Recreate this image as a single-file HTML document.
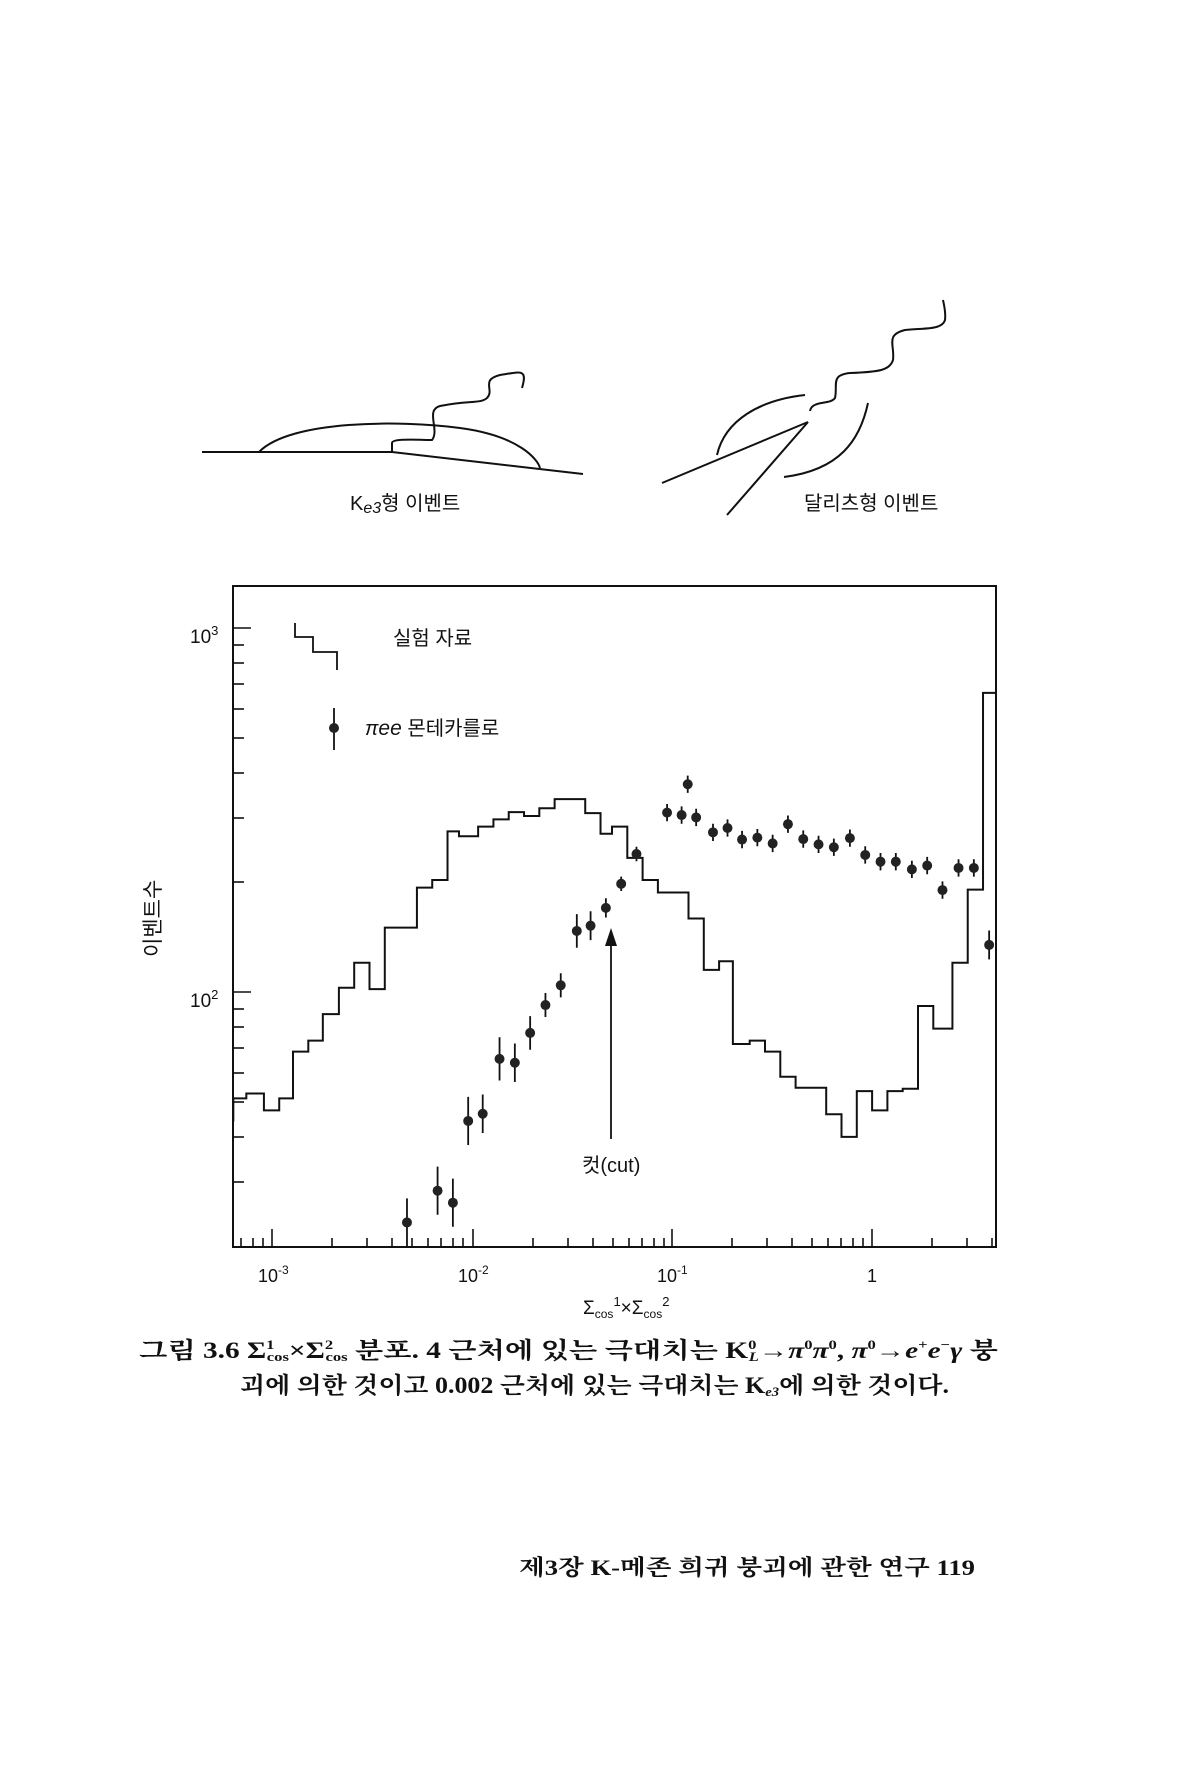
<!DOCTYPE html>
<html><head><meta charset="utf-8"><style>
html,body{margin:0;padding:0;background:#fff}
svg{display:block}
text{font-family:"Liberation Sans","Noto Sans CJK KR",sans-serif;fill:#111}
.s{font-family:"Liberation Serif","Noto Serif CJK SC","Noto Sans CJK KR",serif}
</style></head><body>
<svg width="1193" height="1767" viewBox="0 0 1193 1767" xmlns="http://www.w3.org/2000/svg">
<g fill="none" stroke="#111" stroke-width="2">
<path d="M202,452 H392 L583,474"/>
<path d="M259,452 C290,420 400,420 460,428 C520,436 538,460 540,468"/>
<path d="M392,452 V443 C392,438 420,440 432,440 C440,430 425,410 440,406 C470,400 480,404 487,398 C495,390 480,380 500,375 C520,372 528,368 522,388" />
<path d="M662,483 L808,422"/>
<path d="M727,515 L808,422"/>
<path d="M717,455 C725,420 760,400 805,395"/>
<path d="M868,403 C860,440 840,470 784,477"/>
<path d="M810,411 C812,400 830,405 835,398 C838,385 830,375 850,373 C880,372 890,370 893,360 C895,345 885,335 905,330 C925,328 942,330 945,320 C946,312 944,305 943,300"/>
</g>
<text x="350" y="510" font-size="20">K<tspan font-style="italic" font-size="16" dy="3">e3</tspan><tspan dy="-3">형 이벤트</tspan></text>
<text x="804" y="510" font-size="20">달리츠형 이벤트</text>

<rect x="233" y="586" width="763" height="661" fill="none" stroke="#111" stroke-width="2"/>
<g stroke="#111" stroke-width="1.6">
<line x1="233" y1="628" x2="251" y2="628"/>
<line x1="233" y1="645" x2="244" y2="645"/><line x1="233" y1="663" x2="244" y2="663"/><line x1="233" y1="684" x2="244" y2="684"/><line x1="233" y1="709" x2="244" y2="709"/><line x1="233" y1="738" x2="244" y2="738"/><line x1="233" y1="773" x2="244" y2="773"/><line x1="233" y1="818" x2="244" y2="818"/><line x1="233" y1="882" x2="244" y2="882"/>
<line x1="233" y1="992" x2="251" y2="992"/>
<line x1="233" y1="1009" x2="244" y2="1009"/><line x1="233" y1="1027" x2="244" y2="1027"/><line x1="233" y1="1048" x2="244" y2="1048"/><line x1="233" y1="1073" x2="244" y2="1073"/><line x1="233" y1="1102" x2="244" y2="1102"/><line x1="233" y1="1137" x2="244" y2="1137"/><line x1="233" y1="1182" x2="244" y2="1182"/>
<g>
<line x1="241" y1="1247" x2="241" y2="1238"/><line x1="253" y1="1247" x2="253" y2="1238"/><line x1="263" y1="1247" x2="263" y2="1238"/>
<line x1="272" y1="1247" x2="272" y2="1229"/>
<line x1="332" y1="1247" x2="332" y2="1238"/><line x1="367" y1="1247" x2="367" y2="1238"/><line x1="392" y1="1247" x2="392" y2="1238"/><line x1="412" y1="1247" x2="412" y2="1238"/><line x1="428" y1="1247" x2="428" y2="1238"/><line x1="441" y1="1247" x2="441" y2="1238"/><line x1="453" y1="1247" x2="453" y2="1238"/><line x1="463" y1="1247" x2="463" y2="1238"/>
<line x1="473" y1="1247" x2="473" y2="1229"/>
<line x1="533" y1="1247" x2="533" y2="1238"/><line x1="568" y1="1247" x2="568" y2="1238"/><line x1="593" y1="1247" x2="593" y2="1238"/><line x1="613" y1="1247" x2="613" y2="1238"/><line x1="629" y1="1247" x2="629" y2="1238"/><line x1="642" y1="1247" x2="642" y2="1238"/><line x1="654" y1="1247" x2="654" y2="1238"/><line x1="664" y1="1247" x2="664" y2="1238"/>
<line x1="672" y1="1247" x2="672" y2="1229"/>
<line x1="732" y1="1247" x2="732" y2="1238"/><line x1="767" y1="1247" x2="767" y2="1238"/><line x1="792" y1="1247" x2="792" y2="1238"/><line x1="812" y1="1247" x2="812" y2="1238"/><line x1="828" y1="1247" x2="828" y2="1238"/><line x1="841" y1="1247" x2="841" y2="1238"/><line x1="853" y1="1247" x2="853" y2="1238"/><line x1="863" y1="1247" x2="863" y2="1238"/>
<line x1="872" y1="1247" x2="872" y2="1229"/>
<line x1="932" y1="1247" x2="932" y2="1238"/><line x1="967" y1="1247" x2="967" y2="1238"/><line x1="992" y1="1247" x2="992" y2="1238"/>
</g>
</g>
<text x="190" y="643" font-size="19">10<tspan font-size="13" dy="-8">3</tspan></text>
<text x="190" y="1007" font-size="19">10<tspan font-size="13" dy="-8">2</tspan></text>
<text x="258" y="1282" font-size="18">10<tspan font-size="12" dy="-8">-3</tspan></text>
<text x="458" y="1282" font-size="18">10<tspan font-size="12" dy="-8">-2</tspan></text>
<text x="657" y="1282" font-size="18">10<tspan font-size="12" dy="-8">-1</tspan></text>
<text x="867" y="1282" font-size="18">1</text>
<text x="583" y="1314" font-size="19">Σ<tspan font-size="12" dy="4">cos</tspan><tspan font-size="13" dy="-12">1</tspan><tspan dy="8">×Σ</tspan><tspan font-size="12" dy="4">cos</tspan><tspan font-size="13" dy="-12">2</tspan></text>
<text transform="translate(160,957) rotate(-90)" font-size="21">이벤트수</text>

<path d="M295,623 V637 H313 V652 H337 V670" fill="none" stroke="#111" stroke-width="1.8"/>
<text x="393" y="645" font-size="20">실험 자료</text>
<line x1="334" y1="708" x2="334" y2="750" stroke="#111" stroke-width="1.8"/>
<circle cx="334" cy="728" r="5" fill="#222"/>
<text x="365" y="735" font-size="20"><tspan font-style="italic">π</tspan><tspan font-style="italic" font-size="21">ee</tspan> 몬테카를로</text>

<g transform="translate(0,550) scale(0.765,0.481)" fill="none" stroke="#111">
<path vector-effect="non-scaling-stroke" stroke-width="2" d="M305,1188 V1140 H322 V1130 H345 V1165 H365 V1140 H383 V1043 H403 V1020 H422 V965 H443 V910 H463 V858 H483 V913 H503 V785 H545 V702 H565 V686 H585 V585 H600 V595 H625 V575 H645 V560 H665 V545 H685 V553 H705 V537 H725 V518 H765 V547 H785 V590 H800 V575 H820 V640 H840 V686 H860 V712 H900 V766 H920 V873 H940 V855 H958 V1027 H980 V1020 H1000 V1043 H1020 V1095 H1040 V1118 H1080 V1173 H1100 V1220 H1120 V1125 H1140 V1165 H1160 V1125 H1180 V1120 H1200 V948 H1220 V995 H1245 V858 H1265 V706 H1285 V297 H1302"/>
<g stroke-width="1.8">
<path vector-effect="non-scaling-stroke" d="M532,1348V1448 M572,1282V1382 M592,1307V1407 M612,1137V1237 M631,1132V1212 M653,1013V1103 M673,1026V1106 M693,969V1039 M713,921V971 M733,880V930 M754,757V827 M772,751V811 M792,724V764 M812,679V709 M832,617V647 M872,528V564 M891,533V569 M899,469V505 M910,538V574 M932,569V605 M951,560V596 M970,584V620 M990,580V616 M1010,592V628 M1030,552V588 M1050,583V619 M1070,594V630 M1090,600V636 M1111,581V617 M1131,616V652 M1151,630V666 M1171,630V666 M1192,646V682 M1212,638V674 M1232,689V725 M1253,643V679 M1273,643V679 M1293,791V851"/>
</g>
<g fill="#222" stroke="none">
<ellipse cx="532" cy="1398" rx="6.5" ry="10.4"/><ellipse cx="572" cy="1332" rx="6.5" ry="10.4"/><ellipse cx="592" cy="1357" rx="6.5" ry="10.4"/><ellipse cx="612" cy="1187" rx="6.5" ry="10.4"/><ellipse cx="631" cy="1172" rx="6.5" ry="10.4"/><ellipse cx="653" cy="1058" rx="6.5" ry="10.4"/><ellipse cx="673" cy="1066" rx="6.5" ry="10.4"/><ellipse cx="693" cy="1004" rx="6.5" ry="10.4"/><ellipse cx="713" cy="946" rx="6.5" ry="10.4"/><ellipse cx="733" cy="905" rx="6.5" ry="10.4"/><ellipse cx="754" cy="792" rx="6.5" ry="10.4"/><ellipse cx="772" cy="781" rx="6.5" ry="10.4"/><ellipse cx="792" cy="744" rx="6.5" ry="10.4"/><ellipse cx="812" cy="694" rx="6.5" ry="10.4"/><ellipse cx="832" cy="632" rx="6.5" ry="10.4"/>
<ellipse cx="872" cy="546" rx="6.5" ry="10.4"/><ellipse cx="891" cy="551" rx="6.5" ry="10.4"/><ellipse cx="899" cy="487" rx="6.5" ry="10.4"/><ellipse cx="910" cy="556" rx="6.5" ry="10.4"/><ellipse cx="932" cy="587" rx="6.5" ry="10.4"/><ellipse cx="951" cy="578" rx="6.5" ry="10.4"/><ellipse cx="970" cy="602" rx="6.5" ry="10.4"/><ellipse cx="990" cy="598" rx="6.5" ry="10.4"/><ellipse cx="1010" cy="610" rx="6.5" ry="10.4"/><ellipse cx="1030" cy="570" rx="6.5" ry="10.4"/><ellipse cx="1050" cy="601" rx="6.5" ry="10.4"/><ellipse cx="1070" cy="612" rx="6.5" ry="10.4"/><ellipse cx="1090" cy="618" rx="6.5" ry="10.4"/><ellipse cx="1111" cy="599" rx="6.5" ry="10.4"/><ellipse cx="1131" cy="634" rx="6.5" ry="10.4"/><ellipse cx="1151" cy="648" rx="6.5" ry="10.4"/><ellipse cx="1171" cy="648" rx="6.5" ry="10.4"/><ellipse cx="1192" cy="664" rx="6.5" ry="10.4"/><ellipse cx="1212" cy="656" rx="6.5" ry="10.4"/><ellipse cx="1232" cy="707" rx="6.5" ry="10.4"/><ellipse cx="1253" cy="661" rx="6.5" ry="10.4"/><ellipse cx="1273" cy="661" rx="6.5" ry="10.4"/><ellipse cx="1293" cy="821" rx="6.5" ry="10.4"/>
</g>
</g>

<line x1="611" y1="1139" x2="611" y2="940" stroke="#111" stroke-width="1.8"/>
<path d="M605,946 L611,928 L617,946 Z" fill="#111"/>
<text x="582" y="1172" font-size="20">컷(cut)</text>

<text class="s" x="139" y="1358" font-size="23" font-weight="bold" textLength="859" lengthAdjust="spacingAndGlyphs">그림 3.6  Σ<tspan font-size="13" dy="-9">1</tspan><tspan font-size="13" dx="-6" dy="12">cos</tspan><tspan dy="-3">×Σ</tspan><tspan font-size="13" dy="-9">2</tspan><tspan font-size="13" dx="-6" dy="12">cos</tspan><tspan dy="-3"> 분포. 4 근처에 있는 극대치는 K</tspan><tspan font-size="13" dy="-9">0</tspan><tspan font-size="13" font-style="italic" dx="-6" dy="12">L</tspan><tspan dy="-3">→</tspan><tspan font-style="italic">π</tspan><tspan font-size="13" dy="-9">0</tspan><tspan font-style="italic" dy="9">π</tspan><tspan font-size="13" dy="-9">0</tspan><tspan dy="9">, </tspan><tspan font-style="italic">π</tspan><tspan font-size="13" dy="-9">0</tspan><tspan dy="9">→</tspan><tspan font-style="italic">e</tspan><tspan font-size="13" dy="-9">+</tspan><tspan font-style="italic" dy="9">e</tspan><tspan font-size="13" dy="-9">−</tspan><tspan font-style="italic" dy="9">γ</tspan> 붕</text>
<text class="s" x="240" y="1393" font-size="23" font-weight="bold" textLength="709" lengthAdjust="spacingAndGlyphs">괴에 의한 것이고 0.002 근처에 있는 극대치는 K<tspan font-size="13" font-style="italic" dy="3">e3</tspan><tspan dy="-3">에 의한 것이다.</tspan></text>

<text class="s" x="519" y="1575" font-size="22" font-weight="bold" textLength="456" lengthAdjust="spacingAndGlyphs">제3장 K-메존 희귀 붕괴에 관한 연구  119</text>
</svg>
</body></html>
